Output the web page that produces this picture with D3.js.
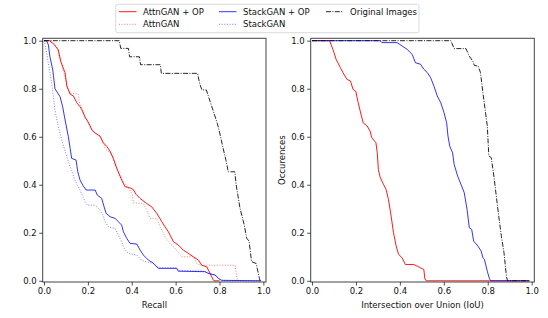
<!DOCTYPE html>
<html>
<head>
<meta charset="utf-8">
<script src="https://cdn.jsdelivr.net/npm/d3@7"></script>
<style>
  body { margin: 0; background: #fff; }
  svg { font-family: "DejaVu Sans", sans-serif; }
</style>
</head>
<body>
<div id="chart"></div>
<script>
// ticks
var xTicks = [0, 0.2, 0.4, 0.6, 0.8, 1.0];
var yTicks = [0, 0.2, 0.4, 0.6, 0.8, 1.0];

// left panel: [recall, fraction]
var recallAttnOP = [[0,1],[0.025,1],[0.045,0.985],[0.065,0.962],[0.076,0.915],[0.09,0.88],[0.096,0.867],[0.104,0.811],[0.119,0.777],[0.134,0.77],[0.149,0.742],[0.164,0.725],[0.172,0.714],[0.187,0.682],[0.2,0.663],[0.21,0.645],[0.218,0.628],[0.233,0.615],[0.255,0.603],[0.27,0.575],[0.286,0.56],[0.301,0.54],[0.316,0.51],[0.331,0.47],[0.354,0.42],[0.369,0.392],[0.39,0.388],[0.407,0.38],[0.42,0.36],[0.438,0.343],[0.468,0.322],[0.491,0.308],[0.514,0.281],[0.537,0.246],[0.567,0.204],[0.59,0.163],[0.612,0.149],[0.635,0.128],[0.658,0.114],[0.681,0.1],[0.704,0.086],[0.719,0.065],[0.742,0.058],[0.757,0.031],[0.772,0.003],[0.775,0],[0.8,0]];
var recallAttn = [[0,1],[0.03,1],[0.045,0.99],[0.06,0.97],[0.07,0.93],[0.085,0.89],[0.1,0.83],[0.11,0.8],[0.12,0.782],[0.155,0.778],[0.162,0.742],[0.172,0.714],[0.187,0.682],[0.2,0.66],[0.22,0.63],[0.235,0.615],[0.258,0.6],[0.265,0.585],[0.272,0.572],[0.28,0.548],[0.3,0.535],[0.318,0.5],[0.33,0.47],[0.345,0.44],[0.36,0.415],[0.375,0.395],[0.39,0.38],[0.402,0.36],[0.407,0.325],[0.453,0.322],[0.468,0.295],[0.483,0.26],[0.514,0.26],[0.529,0.225],[0.552,0.183],[0.574,0.156],[0.597,0.135],[0.628,0.1],[0.681,0.1],[0.697,0.072],[0.711,0.065],[0.871,0.065],[0.881,0]];
var recallStackOP = [[0,1],[0.012,1],[0.02,0.982],[0.027,0.933],[0.04,0.878],[0.05,0.8],[0.073,0.767],[0.085,0.725],[0.096,0.67],[0.111,0.6],[0.119,0.552],[0.126,0.51],[0.146,0.503],[0.154,0.454],[0.164,0.42],[0.176,0.399],[0.192,0.378],[0.233,0.378],[0.243,0.357],[0.263,0.343],[0.274,0.308],[0.283,0.281],[0.301,0.267],[0.324,0.26],[0.339,0.246],[0.354,0.232],[0.362,0.204],[0.377,0.177],[0.392,0.156],[0.423,0.153],[0.438,0.128],[0.453,0.107],[0.476,0.086],[0.498,0.074],[0.51,0.062],[0.521,0.052],[0.605,0.052],[0.612,0.04],[0.734,0.038],[0.749,0.031],[0.78,0.024],[0.795,0.01],[0.81,0.002],[0.99,0]];
var recallStack = [[0,1],[0.003,0.995],[0.02,0.906],[0.035,0.822],[0.05,0.711],[0.065,0.642],[0.081,0.586],[0.104,0.517],[0.119,0.475],[0.126,0.46],[0.141,0.42],[0.164,0.378],[0.187,0.329],[0.197,0.315],[0.233,0.315],[0.255,0.295],[0.271,0.267],[0.278,0.246],[0.293,0.225],[0.324,0.218],[0.339,0.19],[0.354,0.163],[0.365,0.135],[0.384,0.114],[0.423,0.107],[0.445,0.086],[0.468,0.079],[0.498,0.072],[0.514,0.058],[0.544,0.054],[0.605,0.054],[0.612,0.044],[0.73,0.04],[0.75,0.031],[0.78,0.024],[0.795,0.012],[0.81,0],[0.99,0]];
var recallOrig = [[0,1],[0.343,1],[0.35,0.968],[0.385,0.968],[0.39,0.933],[0.435,0.933],[0.44,0.9],[0.53,0.9],[0.535,0.864],[0.7,0.864],[0.71,0.82],[0.72,0.795],[0.74,0.795],[0.765,0.725],[0.79,0.656],[0.8,0.62],[0.815,0.558],[0.83,0.5],[0.84,0.454],[0.87,0.454],[0.876,0.399],[0.894,0.3],[0.913,0.232],[0.924,0.177],[0.935,0.165],[0.946,0.08],[0.967,0.072],[0.982,0.01],[0.985,0]];

// right panel: [IoU, fraction]
var iouAttnOP = [[0,1],[0.08,1],[0.095,0.964],[0.11,0.922],[0.129,0.888],[0.141,0.867],[0.159,0.839],[0.175,0.832],[0.187,0.797],[0.199,0.79],[0.21,0.742],[0.225,0.686],[0.233,0.658],[0.251,0.645],[0.264,0.624],[0.272,0.596],[0.291,0.575],[0.297,0.533],[0.302,0.464],[0.31,0.432],[0.325,0.402],[0.337,0.381],[0.348,0.339],[0.36,0.27],[0.371,0.2],[0.383,0.145],[0.394,0.11],[0.41,0.096],[0.425,0.068],[0.463,0.068],[0.479,0.061],[0.494,0.054],[0.509,0.047],[0.514,0.008],[0.52,0],[0.99,0]];
var iouStackOP = [[0,1],[0.31,1],[0.318,0.992],[0.387,0.992],[0.41,0.978],[0.433,0.964],[0.456,0.943],[0.471,0.908],[0.494,0.902],[0.509,0.881],[0.525,0.867],[0.54,0.846],[0.555,0.811],[0.57,0.77],[0.586,0.742],[0.601,0.7],[0.613,0.658],[0.619,0.603],[0.627,0.561],[0.64,0.533],[0.647,0.485],[0.663,0.436],[0.681,0.395],[0.693,0.367],[0.706,0.297],[0.716,0.221],[0.727,0.214],[0.736,0.165],[0.755,0.145],[0.77,0.124],[0.778,0.096],[0.785,0.089],[0.798,0.04],[0.808,0.008],[0.814,0],[0.99,0]];
var iouOrig = [[0,1],[0.632,1],[0.647,0.967],[0.701,0.967],[0.716,0.936],[0.732,0.915],[0.739,0.897],[0.757,0.894],[0.767,0.867],[0.778,0.783],[0.788,0.714],[0.798,0.645],[0.805,0.52],[0.816,0.513],[0.828,0.436],[0.839,0.353],[0.85,0.27],[0.862,0.186],[0.874,0.117],[0.885,0.02],[0.89,0],[0.99,0]];

var legendNames = ["AttnGAN + OP", "AttnGAN", "StackGAN + OP", "StackGAN", "Original Images"];

var W = 548, H = 318;
var svg = d3.select("#chart").append("svg")
  .attr("width", W)
  .attr("height", H);

var styles = {
  attnOP: { color: "#ff0000", dash: null, opacity: 0.9 },
  attn: { color: "#ff0000", dash: "1,1.65", opacity: 0.5 },
  stackOP: { color: "#0000ff", dash: null, opacity: 0.8 },
  stack: { color: "#0000ff", dash: "1,1.65", opacity: 0.5 },
  orig: { color: "#000000", dash: "5,1.4,1,1.4", opacity: 0.85 }
};

var plotTop = 38.3, plotBottom = 282;
var fs = 8.5;
var y = d3.scaleLinear().domain([-0.005, 1.01]).range([plotBottom, plotTop]);

function panel(left, right, series, xlabel, ylabel) {
  var x = d3.scaleLinear().domain([-0.006, 1.012]).range([left, right]);
  var g = svg.append("g");

  var line = d3.line()
    .x(function (d) { return x(d[0]); })
    .y(function (d) { return y(d[1]); });

  series.forEach(function (s) {
    var st = styles[s.key];
    g.append("path")
      .datum(s.data)
      .attr("fill", "none")
      .attr("stroke", st.color)
      .attr("stroke-opacity", st.opacity)
      .attr("stroke-width", 1)
      .attr("stroke-dasharray", st.dash)
      .attr("d", line);
  });

  // frame
  g.append("rect")
    .attr("x", left).attr("y", plotTop)
    .attr("width", right - left).attr("height", plotBottom - plotTop)
    .attr("fill", "none").attr("stroke", "#444").attr("stroke-width", 1);

  var xa = g.append("g")
    .attr("transform", "translate(0," + plotBottom + ")")
    .call(d3.axisBottom(x).tickValues(xTicks).tickFormat(d3.format(".1f")).tickSize(3.5).tickSizeOuter(0));
  var ya = g.append("g")
    .attr("transform", "translate(" + left + ",0)")
    .call(d3.axisLeft(y).tickValues(yTicks).tickFormat(d3.format(".1f")).tickSize(3.5).tickSizeOuter(0));
  [xa, ya].forEach(function (a) {
    a.select(".domain").remove();
    a.selectAll("line").attr("stroke", "#222").attr("stroke-width", 0.8);
    a.selectAll("text").attr("font-size", fs).attr("fill", "#111")
      .attr("font-family", "DejaVu Sans, sans-serif");
  });
  xa.selectAll("text").attr("dy", "0.71em").attr("y", 6.2);
  ya.selectAll("text").attr("x", -6);

  g.append("text")
    .attr("x", (left + right) / 2).attr("y", 308)
    .attr("text-anchor", "middle").attr("font-size", fs).attr("fill", "#111")
    .text(xlabel);

  if (ylabel) {
    g.append("text")
      .attr("transform", "translate(" + (left - 25.5) + "," + ((plotTop + plotBottom) / 2) + ") rotate(-90)")
      .attr("text-anchor", "middle").attr("font-size", fs).attr("fill", "#111")
      .text(ylabel);
  }
}

panel(42.7, 266, [
  { key: "attn", data: recallAttn },
  { key: "attnOP", data: recallAttnOP },
  { key: "stack", data: recallStack },
  { key: "stackOP", data: recallStackOP },
  { key: "orig", data: recallOrig }
], "Recall", null);

panel(310.7, 534.3, [
  { key: "attnOP", data: iouAttnOP },
  { key: "stackOP", data: iouStackOP },
  { key: "orig", data: iouOrig }
], "Intersection over Union (IoU)", "Occurences");

// legend
var leg = svg.append("g");
leg.append("rect")
  .attr("x", 115.7).attr("y", 4.3).attr("width", 303.3).attr("height", 28.4)
  .attr("rx", 2).attr("fill", "#fff").attr("fill-opacity", 0.8)
  .attr("stroke", "#d0d0d0").attr("stroke-width", 0.8);

var legKeys = ["attnOP", "attn", "stackOP", "stack", "orig"];
var colX = [119, 219, 326];
var rowY = [11.7, 24.3];
legKeys.forEach(function (k, i) {
  var cx = colX[Math.floor(i / 2)], cy = rowY[i % 2];
  var st = styles[k];
  leg.append("line")
    .attr("x1", cx).attr("x2", cx + 17.5)
    .attr("y1", cy).attr("y2", cy)
    .attr("stroke", st.color).attr("stroke-opacity", st.opacity)
    .attr("stroke-width", 1).attr("stroke-dasharray", st.dash);
  leg.append("text")
    .attr("x", cx + 24).attr("y", cy).attr("dy", "0.35em")
    .attr("font-size", fs).attr("fill", "#111")
    .text(legendNames[i]);
});
</script>
</body>
</html>
